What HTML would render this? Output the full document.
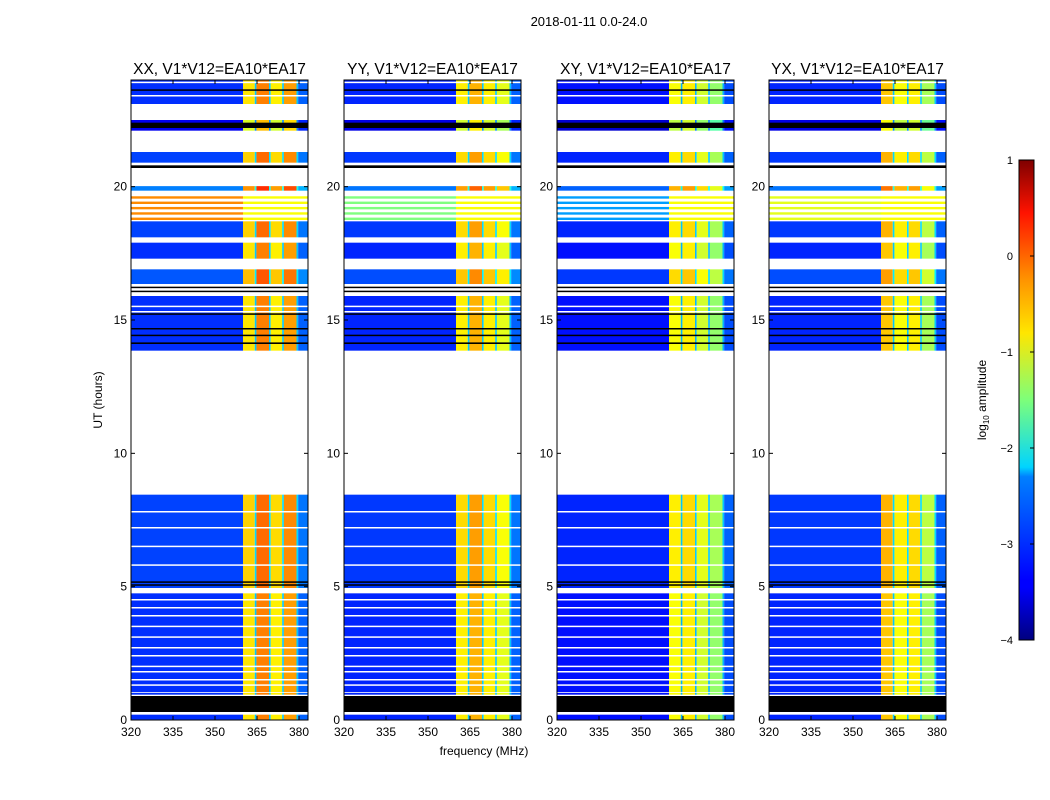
<!DOCTYPE html>
<html><head><meta charset="utf-8">
<style>
body{margin:0;background:#fff;}
svg{display:block;font-family:"Liberation Sans",sans-serif;}
</style></head>
<body>
<svg id="fig" width="1050" height="800" viewBox="0 0 1050 800">
<text x="589" y="26" font-size="13" text-anchor="middle">2018-01-11 0.0-24.0</text>
<text x="484" y="755" font-size="12" text-anchor="middle">frequency (MHz)</text>
<text x="102" y="400" font-size="12" text-anchor="middle" transform="rotate(-90 102 400)">UT (hours)</text>
<defs>
<linearGradient id="jetg" x1="0" y1="1" x2="0" y2="0">
<stop offset="0" stop-color="#00007f"/><stop offset="0.11" stop-color="#0000ff"/><stop offset="0.125" stop-color="#0000ff"/>
<stop offset="0.34" stop-color="#0080ff"/><stop offset="0.36" stop-color="#00d4ff"/><stop offset="0.5" stop-color="#7dff7a"/>
<stop offset="0.64" stop-color="#ffe600"/><stop offset="0.75" stop-color="#ff9400"/><stop offset="0.89" stop-color="#ff1300"/><stop offset="1" stop-color="#7f0000"/>
</linearGradient>
</defs>
<g id="panels"></g>
<g>
<rect x="1019" y="160" width="15" height="480" fill="url(#jetg)" stroke="#000" stroke-width="1"/>
</g>
<g id="cbticks"></g>
<text x="986" y="400" font-size="12" text-anchor="middle" transform="rotate(-90 986 400)">log<tspan font-size="8" dy="3">10</tspan><tspan dy="-3"> amplitude</tspan></text>
</svg>
<script>
const panelTitles = ["XX, V1*V12=EA10*EA17","YY, V1*V12=EA10*EA17","XY, V1*V12=EA10*EA17","YX, V1*V12=EA10*EA17"];
const bandEdges = [320,360,364.2,364.8,369.3,369.9,374.0,374.6,379.1,379.7,383.2];
const bandLevels = [
  [-3.15,-0.75,-2.4,-0.25,-2.4,-0.8,-2.4,-0.4,-2.4,-2.9],
  [-3.2,-0.8,-2.4,-0.5,-2.4,-0.8,-2.4,-1.0,-2.4,-2.9],
  [-3.3,-0.9,-2.5,-0.8,-2.5,-1.1,-2.5,-1.4,-2.5,-3.0],
  [-3.2,-0.6,-2.4,-0.9,-2.4,-0.8,-2.4,-1.3,-2.4,-3.0]
];
const dataBlocks = [[0.02,0.2],[0.95,1.02],[1.05,4.75],[4.95,8.45],[13.85,15.9],[16.35,16.9],[17.3,17.9],[18.1,18.7],[19.85,20.02],[20.9,21.3],[22.1,22.5],[23.1,24]];
const blockBoost = [0,0,0,0.1,0,0.2,0,0.1,0.4,0.1,-0.3,0];
const stripeHours = [18.75,18.95,19.15,19.35,19.55];
const stripeLevels = [-0.3,-1.5,-2.6,-1.0];
const blackHours = [[0.3,0.9],[5.05,5.09],[5.15,5.2],[14.1,14.16],[14.4,14.45],[14.65,14.7],[15.2,15.25],[16.05,16.1],[16.2,16.25],[20.7,20.8],[22.2,22.4],[23.6,23.65]];
const whiteHours = [1.3,1.5,1.8,2.0,2.4,2.7,3.1,3.5,3.9,4.2,4.5,5.8,6.5,7.2,7.8,15.3,15.5,23.4,23.9];
const xTicks = [320,335,350,365,380];
const yTicks = [0,5,10,15,20];
const cbTicks = [1,0,-1,-2,-3,-4];
const cbTickLabels = ["1","0","\u22121","\u22122","\u22123","\u22124"];

const X0 = [131,344,557,769], PW = 177, PY0 = 80, PY1 = 720;
const yS = h => PY1 - h*(PY1-PY0)/24;
const xS = (p,f) => X0[p] + (f-320)*2.8;
function jet(v){
  let t = Math.max(0,Math.min(1,(v+4)/5));
  const r = Math.max(0,Math.min(1,1.5-Math.abs(4*t-3)));
  const g = Math.max(0,Math.min(1,1.5-Math.abs(4*t-2)));
  const b = Math.max(0,Math.min(1,1.5-Math.abs(4*t-1)));
  return `rgb(${Math.round(r*255)},${Math.round(g*255)},${Math.round(b*255)})`;
}
const NS = "http://www.w3.org/2000/svg";
function mk(tag, attrs, parent){const e=document.createElementNS(NS,tag);for(const k in attrs)e.setAttribute(k,attrs[k]);parent.appendChild(e);return e;}
const root = document.getElementById("panels");
for(let p=0;p<4;p++){
  const g = mk("g",{},root);
  
  
  const cx = X0[p]+PW/2;
  const t = mk("text",{x:cx,y:74,"font-size":15.5,"text-anchor":"middle"},g);
  t.textContent = panelTitles[p];
  
  
  dataBlocks.forEach((blk,bi)=>{
    for(let k=0;k<bandLevels[p].length;k++){
      const x1 = xS(p,bandEdges[k]), x2 = Math.min(X0[p]+PW, xS(p,bandEdges[k+1]));
      const r = mk("rect",{x:x1,y:yS(blk[1]),width:x2-x1,height:yS(blk[0])-yS(blk[1]),fill:jet(bandLevels[p][k]+blockBoost[bi])},g);
      
      
    }
  });
  stripeHours.forEach(h=>{
    const r = mk("rect",{x:X0[p],y:yS(h+0.09),width:xS(p,360)-X0[p],height:yS(h)-yS(h+0.09),fill:jet(stripeLevels[p])},g);
    
    
    const r2 = mk("rect",{x:xS(p,360),y:yS(h+0.09),width:X0[p]+PW-xS(p,360),height:yS(h)-yS(h+0.09),fill:jet(-0.9)},g);
    
    
  });
  whiteHours.forEach(h=>{
    const r = mk("rect",{x:X0[p],y:yS(h)-1,width:PW,height:1.5,fill:"#fff"},g);
    
    
  });
  blackHours.forEach(b=>{
    const r = mk("rect",{x:X0[p],y:yS(b[1]),width:PW,height:Math.max(1.5,yS(b[0])-yS(b[1])),fill:"#000"},g);
    
    
  });
  const fr = mk("rect",{x:X0[p],y:PY0,width:PW,height:PY1-PY0,fill:"none",stroke:"#000","stroke-width":1},g);
  
  
  xTicks.forEach(v=>{
    const x = xS(p,v);
    mk("line",{x1:x,x2:x,y1:PY1,y2:PY1-4,stroke:"#000"},g);
    mk("line",{x1:x,x2:x,y1:PY0,y2:PY0+4,stroke:"#000"},g);
    const l = mk("text",{x:x,y:736,"font-size":12,"text-anchor":"middle"},g);
    l.textContent = v;
    
    
  });
  yTicks.forEach(v=>{
    const y = yS(v);
    mk("line",{x1:X0[p],x2:X0[p]+4,y1:y,y2:y,stroke:"#000"},g);
    mk("line",{x1:X0[p]+PW,x2:X0[p]+PW-4,y1:y,y2:y,stroke:"#000"},g);
    const l = mk("text",{x:X0[p]-4,y:y+4,"font-size":12,"text-anchor":"end"},g);
    l.textContent = v;
    
    
  });
}
const cbg = document.getElementById("cbticks");
cbTicks.forEach((v,i)=>{
  const y = 640 - (v+4)*96;
  mk("line",{x1:1034,x2:1030,y1:y,y2:y,stroke:"#000"},cbg);
  const l = mk("text",{x:1013,y:y+4,"font-size":11,"text-anchor":"end"},cbg);
  l.textContent = cbTickLabels[i];
  
  
});
</script>
</body></html>
